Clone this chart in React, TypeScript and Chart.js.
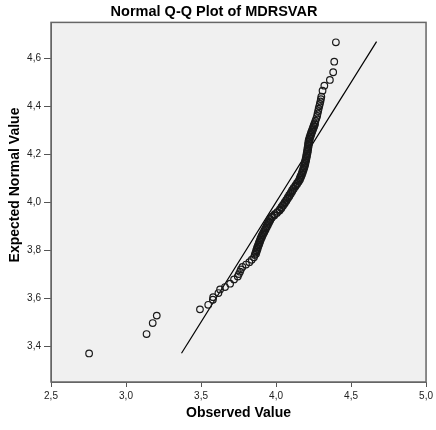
import { useEffect, useRef } from "react";
import { Chart, registerables } from "chart.js";

Chart.register(...registerables);

const titleText = "Normal Q-Q Plot of MDRSVAR";
const xTitle = "Observed Value";
const yTitle = "Expected Normal Value";

const xTicks = [2.5, 3.0, 3.5, 4.0, 4.5, 5.0];
const yTicks = [3.4, 3.6, 3.8, 4.0, 4.2, 4.4, 4.6];

const observed = [
  2.754, 3.137, 3.178, 3.205, 3.493, 3.548, 3.579, 3.581, 3.616, 3.627, 3.66, 3.694, 3.72,
  3.745, 3.752, 3.76, 3.766, 3.776, 3.8, 3.822, 3.838, 3.853, 3.858, 3.863, 3.868, 3.873,
  3.879, 3.885, 3.891, 3.897, 3.904, 3.912, 3.92, 3.928, 3.936, 3.944, 3.952, 3.96, 3.972,
  3.991, 4.01, 4.025, 4.036, 4.047, 4.058, 4.068, 4.078, 4.088, 4.098, 4.107, 4.117, 4.129,
  4.14, 4.151, 4.158, 4.164, 4.171, 4.176, 4.181, 4.186, 4.19, 4.193, 4.197, 4.2, 4.203,
  4.206, 4.208, 4.211, 4.213, 4.215, 4.218, 4.223, 4.228, 4.233, 4.239, 4.245, 4.251, 4.257,
  4.263, 4.269, 4.274, 4.277, 4.281, 4.284, 4.288, 4.292, 4.296, 4.299, 4.302,
  4.31, 4.322, 4.359, 4.381, 4.388, 4.399,
  3.867, 3.872, 3.877, 3.882, 3.888, 3.894, 3.9, 3.907, 3.914, 3.922, 3.93, 3.938, 3.946,
  3.954, 3.962, 3.972, 3.988, 4.006, 4.024, 4.036, 4.047, 4.058, 4.069, 4.079, 4.089, 4.099,
  4.108, 4.118, 4.129, 4.14, 4.151, 4.16, 4.167, 4.173, 4.179, 4.184, 4.189, 4.194, 4.197,
  4.201, 4.204, 4.207, 4.21, 4.213, 4.215, 4.218, 4.22, 4.222, 4.226, 4.231, 4.236, 4.242,
  4.248, 4.254, 4.26,
];

const expected = [
  3.369, 3.45, 3.496, 3.527, 3.553, 3.572, 3.593, 3.604, 3.621, 3.636, 3.646, 3.66, 3.678,
  3.69, 3.7, 3.71, 3.72, 3.73, 3.74, 3.75, 3.76, 3.77, 3.78, 3.79, 3.8, 3.81,
  3.82, 3.83, 3.84, 3.85, 3.86, 3.87, 3.88, 3.89, 3.9, 3.91, 3.92, 3.93, 3.94,
  3.95, 3.96, 3.97, 3.98, 3.99, 4.0, 4.01, 4.02, 4.03, 4.04, 4.05, 4.06, 4.07,
  4.08, 4.09, 4.1, 4.11, 4.12, 4.13, 4.14, 4.15, 4.16, 4.17, 4.18, 4.19, 4.2,
  4.21, 4.22, 4.23, 4.24, 4.25, 4.26, 4.27, 4.28, 4.29, 4.3, 4.31, 4.32, 4.33,
  4.34, 4.35, 4.36, 4.37, 4.38, 4.39, 4.4, 4.41, 4.42, 4.43, 4.44,
  4.465, 4.486, 4.51, 4.542, 4.586, 4.667,
  3.785, 3.795, 3.805, 3.815, 3.825, 3.835, 3.845, 3.855, 3.865, 3.875, 3.885, 3.895, 3.905,
  3.915, 3.925, 3.935, 3.945, 3.955, 3.965, 3.975, 3.985, 3.995, 4.005, 4.015, 4.025, 4.035,
  4.045, 4.055, 4.065, 4.075, 4.085, 4.095, 4.105, 4.115, 4.125, 4.135, 4.145, 4.155, 4.165,
  4.175, 4.185, 4.195, 4.205, 4.215, 4.225, 4.235, 4.245, 4.255, 4.265, 4.275, 4.285, 4.295,
  4.305, 4.315, 4.325,
];

const refLineX = [3.37, 4.67];
const refLineY = [3.37, 4.67];

const FONT = '"Liberation Sans", Arial, sans-serif';
const fmt = (v: number) => v.toFixed(1).replace(".", ",");

export default function App() {
  const ref = useRef<HTMLCanvasElement>(null);

  useEffect(() => {
    document.body.style.margin = "0";
    const canvas = ref.current;
    if (!canvas) return;

    const frame = {
      id: "frame",
      beforeDraw(chart: any) {
        const { ctx, chartArea: a } = chart;
        ctx.save();
        ctx.fillStyle = "#ffffff";
        ctx.fillRect(0, 0, chart.width, chart.height);
        ctx.fillStyle = "#f0f0f0";
        ctx.fillRect(a.left, a.top, a.right - a.left, a.bottom - a.top);
        ctx.restore();
      },
      afterDraw(chart: any) {
        const { ctx, chartArea: a } = chart;
        ctx.save();
        ctx.strokeStyle = "#666666";
        ctx.lineWidth = 1.5;
        ctx.strokeRect(a.left, a.top, a.right - a.left, a.bottom - a.top);
        ctx.translate(15, 185);
        ctx.rotate(-Math.PI / 2);
        ctx.font = `bold 14px ${FONT}`;
        ctx.fillStyle = "#000000";
        ctx.textAlign = "center";
        ctx.textBaseline = "middle";
        ctx.fillText(yTitle, 0, 0);
        ctx.restore();
      },
    };

    const chart = new Chart(canvas, {
      type: "scatter",
      data: {
        datasets: [
          {
            label: "Observed",
            data: observed.map((x, i) => ({ x, y: expected[i] })),
            pointRadius: 3.3,
            pointBorderWidth: 1.2,
            pointBorderColor: "#1a1a1a",
            pointBackgroundColor: "rgba(0,0,0,0)",
            showLine: false,
          },
          {
            label: "Reference",
            data: refLineX.map((x, i) => ({ x, y: refLineY[i] })),
            showLine: true,
            pointRadius: 0,
            borderColor: "#000000",
            borderWidth: 1.2,
          },
        ],
      },
      options: {
        responsive: false,
        animation: false,
        devicePixelRatio: 1,
        layout: { padding: { left: 0, right: 8, top: 0, bottom: 0 } },
        plugins: {
          legend: { display: false },
          tooltip: { enabled: false },
          title: {
            display: true,
            text: titleText,
            color: "#000000",
            font: { family: FONT, size: 14.5, weight: "bold" },
            padding: { top: 3, bottom: 2 },
          },
        },
        scales: {
          x: {
            type: "linear",
            min: 2.5,
            max: 5.0,
            afterBuildTicks: (s: any) => {
              s.ticks = xTicks.map((v) => ({ value: v }));
            },
            afterFit: (s: any) => {
              s.height = 48;
            },
            ticks: {
              callback: (v: any) => fmt(Number(v)),
              color: "#222222",
              font: { family: FONT, size: 10 },
              padding: 3,
              maxRotation: 0,
            },
            grid: {
              drawOnChartArea: false,
              drawTicks: true,
              tickLength: 5,
              color: "#555555",
            },
            border: { display: true, color: "#666666" },
            title: {
              display: true,
              text: xTitle,
              color: "#000000",
              font: { family: FONT, size: 14, weight: "bold" },
              padding: { top: 0, bottom: 8 },
            },
          },
          y: {
            type: "linear",
            min: 3.25,
            max: 4.75,
            afterBuildTicks: (s: any) => {
              s.ticks = yTicks.map((v) => ({ value: v }));
            },
            afterFit: (s: any) => {
              s.width = 51;
            },
            ticks: {
              callback: (v: any) => fmt(Number(v)),
              color: "#222222",
              font: { family: FONT, size: 10 },
              padding: 3,
            },
            grid: {
              drawOnChartArea: false,
              drawTicks: true,
              tickLength: 7,
              color: "#555555",
            },
            border: { display: true, color: "#666666" },
          },
        },
      },
      plugins: [frame],
    });

    return () => chart.destroy();
  }, []);

  return <canvas ref={ref} width={436} height={430} />;
}
